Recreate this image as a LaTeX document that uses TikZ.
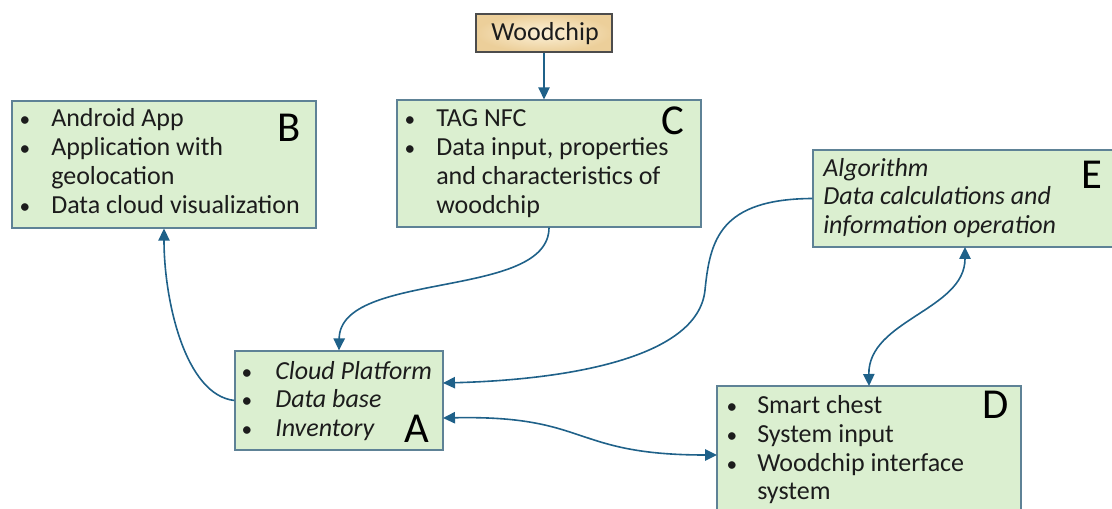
\documentclass[tikz,border=0pt]{standalone}
\usepackage{fontspec}
\setmainfont{Carlito}
\usetikzlibrary{arrows.meta,fit}
\definecolor{boxfill}{HTML}{DBEFD0}
\definecolor{boxline}{HTML}{5E8296}
\definecolor{arr}{HTML}{1F6189}
\definecolor{woodin}{HTML}{FCF1D8}
\definecolor{woodout}{HTML}{ECCF9A}
\definecolor{ink}{HTML}{1C1C1C}
\tikzset{
  box/.style={draw=boxline, line width=0.9pt, fill=boxfill, inner sep=0pt},
  woodbox/.style={draw=black!70, line width=1pt, inner sep=0pt, shading=radial, inner color=woodin, outer color=woodout},
  txt/.style={anchor=base west, inner sep=0pt, text=ink, font=\fontsize{19.5}{22}\selectfont},
  itx/.style={txt, font=\fontsize{19.5}{22}\selectfont\itshape},
  bul/.style={anchor=base, inner sep=0pt, text=ink, font=\fontsize{16}{18}\selectfont},
  big/.style={anchor=base, inner sep=0pt, text=black, font=\fontsize{32}{36}\selectfont},
  con/.style={draw=arr, line width=1.2pt, -{Triangle[length=9pt,width=8.5pt]}},
  dcon/.style={draw=arr, line width=1.2pt, {Triangle[length=9pt,width=8.5pt]}-{Triangle[length=9pt,width=8.5pt]}}
}
\begin{document}
\begin{tikzpicture}[x=0.75pt, y=-0.75pt]
\useasboundingbox (0,0) rectangle (1112,509);

% boxes
\node[woodbox, fit={(476,14)(612,52)}] (W) {};
\node[anchor=center, inner sep=0pt, text=ink, font=\fontsize{19.5}{22}\selectfont] (wt) at (545,34) {Woodchip};

\node[box, fit={(12,101)(316,228)}] (B) {};
\node[box, fit={(397,100)(701,227)}] (C) {};
\node[box, fit={(813,150)(1116,247)}] (E) {};
\node[box, fit={(235,351)(443,450)}] (A) {};
\node[box, fit={(717,386)(1021,514)}] (D) {};

% B text
\node[bul] (b1b) at (25,127) {\textbullet};
\node[txt] (b1) at (51,127) {Android App};
\node[bul] (b2b) at (25,156) {\textbullet};
\node[txt] (b2) at (51,156) {Application with};
\node[txt] (b3) at (51,185) {geolocation};
\node[bul] (b4b) at (25,214) {\textbullet};
\node[txt] (b4) at (51,214) {Data cloud visualization};
\node[big] (bl) at (289,142) {B};

% C text
\node[bul] (c1b) at (410,127) {\textbullet};
\node[txt] (c1) at (436,127) {TAG NFC};
\node[bul] (c2b) at (410,156) {\textbullet};
\node[txt] (c2) at (436,156) {Data input, properties};
\node[txt] (c3) at (436,185) {and characteristics of};
\node[txt] (c4) at (436,214) {woodchip};
\node[big] (cl) at (673,135) {C};

% E text
\node[itx] (e1) at (823,177) {Algorithm};
\node[itx] (e2) at (823,205) {Data calculations and};
\node[itx] (e3) at (823,234) {information operation};
\node[big] (el) at (1092,189) {E};

% A text
\node[bul] (a1b) at (247,379) {\textbullet};
\node[itx] (a1) at (275,379) {Cloud Platform};
\node[bul] (a2b) at (247,407) {\textbullet};
\node[itx] (a2) at (275,407) {Data base};
\node[bul] (a3b) at (247,436) {\textbullet};
\node[itx] (a3) at (275,436) {Inventory};
\node[big] (al) at (417,442) {A};

% D text
\node[bul] (d1b) at (732,413) {\textbullet};
\node[txt] (d1) at (757,413) {Smart chest};
\node[bul] (d2b) at (732,442) {\textbullet};
\node[txt] (d2) at (757,442) {System input};
\node[bul] (d3b) at (732,471) {\textbullet};
\node[txt] (d3) at (757,471) {Woodchip interface};
\node[txt] (d4) at (757,499) {system};
\node[big] (dl) at (996,418) {D};

% connectors
\draw[con] (W.south) -- (C.north -| W.south);
\draw[con] (C.south) .. controls (549,300) and (340,270) .. (A.north);
\draw[con] (A.west) .. controls (185,395) and (164,300) .. (B.south);
\coordinate (ea) at (443,383);
\draw[con] (E.west) .. controls (720,199) and (710,240) .. (705,290)
   .. controls (698,360) and (560,380) .. (ea);
\coordinate (ad1) at (443,418);
\coordinate (ad2) at (717,455);
\draw[dcon] (ad1) .. controls (590,415) and (570,455) .. (ad2);
\coordinate (ed1) at (965,247);
\coordinate (ed2) at (869,386);
\draw[dcon] (ed1) .. controls (965,310) and (868,320) .. (ed2);
\end{tikzpicture}
\end{document}
